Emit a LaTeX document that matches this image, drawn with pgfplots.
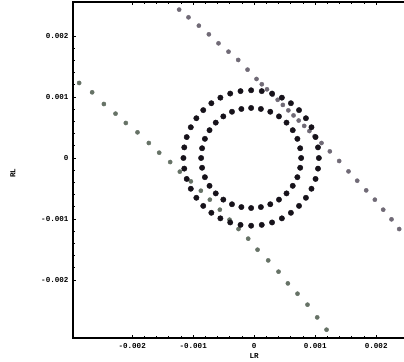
\documentclass[border=0pt]{standalone}
\usepackage{fontspec}
\setmonofont{Liberation Mono}
\usepackage{pgfplots}
\pgfplotsset{compat=1.18}
\definecolor{dotdark}{RGB}{22,18,26}
\definecolor{lineA}{RGB}{112,106,118}
\definecolor{lineB}{RGB}{102,114,102}
\begin{document}
\begin{tikzpicture}
\path[use as bounding box] (-73bp,-24bp) rectangle (331bp,338bp);
\begin{axis}[
  at={(0,0)}, anchor=south west,
  scale only axis, width=333.7bp, height=336bp,
  xmin=-2.97e-3, xmax=2.50e-3, ymin=-2.95e-3, ymax=2.557e-3,
  scaled ticks=false,
  axis line style={line width=1.2bp, black},
  xtick={-0.002,-0.001,0,0.001,0.002},
  ytick={-0.002,-0.001,0,0.001,0.002},
  xticklabels={-0.002,-0.001,0,0.001,0.002},
  yticklabels={-0.002,-0.001,0,0.001,0.002},
  minor tick num=4,
  major tick length=3bp, minor tick length=1.6bp,
  tick style={black, line width=0.7bp},
  ticklabel style={font=\ttfamily\bfseries\fontsize{7.6}{9}\selectfont, text=black},
  xticklabel style={yshift=-2bp},
  yticklabel style={xshift=-1bp},
  xlabel={LR}, ylabel={RL},
  label style={font=\ttfamily\bfseries\fontsize{7.6}{9}\selectfont, text=black},
  xlabel style={at={(axis description cs:0.543,0)}, anchor=north, yshift=-12bp},
  ylabel style={at={(axis description cs:0,0.49)}, anchor=center, yshift=60bp},
]
% upper line
\addplot[only marks, mark=*, mark size=2.1bp, lineA, mark options={draw=none, fill=lineA}] coordinates {
(-1.230e-3,2.432e-3) (-1.077e-3,2.306e-3) (-0.907e-3,2.169e-3) (-0.743e-3,2.027e-3)
(-0.585e-3,1.880e-3) (-0.421e-3,1.743e-3) (-0.262e-3,1.607e-3) (-0.109e-3,1.448e-3)
(0.038e-3,1.295e-3) (0.125e-3,1.209e-3) (0.210e-3,1.126e-3) (0.300e-3,1.037e-3)
(0.385e-3,0.954e-3) (0.470e-3,0.870e-3) (0.560e-3,0.781e-3) (0.645e-3,0.698e-3)
(0.730e-3,0.614e-3) (0.820e-3,0.526e-3) (0.905e-3,0.442e-3) (0.990e-3,0.358e-3)
(1.104e-3,0.246e-3) (1.240e-3,0.109e-3) (1.393e-3,-0.049e-3) (1.546e-3,-0.219e-3)
(1.689e-3,-0.372e-3) (1.836e-3,-0.530e-3) (1.978e-3,-0.683e-3) (2.115e-3,-0.847e-3)
(2.251e-3,-1.005e-3) (2.377e-3,-1.164e-3)
};
% lower line
\addplot[only marks, mark=*, mark size=2.1bp, lineB, mark options={draw=none, fill=lineB}] coordinates {
(-2.869e-3,1.230e-3) (-2.656e-3,1.077e-3) (-2.464e-3,0.885e-3) (-2.273e-3,0.727e-3)
(-2.104e-3,0.574e-3) (-1.913e-3,0.421e-3) (-1.727e-3,0.246e-3) (-1.557e-3,0.087e-3)
(-1.377e-3,-0.066e-3) (-1.219e-3,-0.224e-3) (-1.038e-3,-0.383e-3) (-0.874e-3,-0.536e-3)
(-0.727e-3,-0.683e-3) (-0.563e-3,-0.847e-3) (-0.404e-3,-1.011e-3) (-0.257e-3,-1.164e-3)
(-0.098e-3,-1.322e-3) (0.055e-3,-1.503e-3) (0.230e-3,-1.678e-3) (0.399e-3,-1.863e-3)
(0.552e-3,-2.055e-3) (0.710e-3,-2.224e-3) (0.874e-3,-2.404e-3) (1.033e-3,-2.612e-3)
(1.186e-3,-2.814e-3)
};
% outer circle
\addplot[only marks, mark=*, mark size=2.7bp, dotdark, mark options={draw=none, fill=dotdark}] coordinates {
(1.060e-3,0) (1.046e-3,0.174e-3) (1.006e-3,0.343e-3) (0.939e-3,0.504e-3)
(0.848e-3,0.652e-3) (0.735e-3,0.785e-3) (0.602e-3,0.898e-3) (0.454e-3,0.989e-3)
(0.293e-3,1.056e-3) (0.124e-3,1.096e-3) (-0.050e-3,1.110e-3) (-0.224e-3,1.096e-3)
(-0.393e-3,1.056e-3) (-0.554e-3,0.989e-3) (-0.702e-3,0.898e-3) (-0.835e-3,0.785e-3)
(-0.948e-3,0.652e-3) (-1.039e-3,0.504e-3) (-1.106e-3,0.343e-3) (-1.146e-3,0.174e-3)
(-1.160e-3,0) (-1.146e-3,-0.174e-3) (-1.106e-3,-0.343e-3) (-1.039e-3,-0.504e-3)
(-0.948e-3,-0.652e-3) (-0.835e-3,-0.785e-3) (-0.702e-3,-0.898e-3) (-0.554e-3,-0.989e-3)
(-0.393e-3,-1.056e-3) (-0.224e-3,-1.096e-3) (-0.050e-3,-1.110e-3) (0.124e-3,-1.096e-3)
(0.293e-3,-1.056e-3) (0.454e-3,-0.989e-3) (0.602e-3,-0.898e-3) (0.735e-3,-0.785e-3)
(0.848e-3,-0.652e-3) (0.939e-3,-0.504e-3) (1.006e-3,-0.343e-3) (1.046e-3,-0.174e-3)
};
% inner circle
\addplot[only marks, mark=*, mark size=2.7bp, dotdark, mark options={draw=none, fill=dotdark}] coordinates {
(0.770e-3,0) (0.754e-3,0.160e-3) (0.708e-3,0.314e-3) (0.632e-3,0.456e-3)
(0.530e-3,0.580e-3) (0.406e-3,0.682e-3) (0.264e-3,0.758e-3) (0.110e-3,0.804e-3)
(-0.050e-3,0.820e-3) (-0.210e-3,0.804e-3) (-0.364e-3,0.758e-3) (-0.506e-3,0.682e-3)
(-0.630e-3,0.580e-3) (-0.732e-3,0.456e-3) (-0.808e-3,0.314e-3) (-0.854e-3,0.160e-3)
(-0.870e-3,0) (-0.854e-3,-0.160e-3) (-0.808e-3,-0.314e-3) (-0.732e-3,-0.456e-3)
(-0.630e-3,-0.580e-3) (-0.506e-3,-0.682e-3) (-0.364e-3,-0.758e-3) (-0.210e-3,-0.804e-3)
(-0.050e-3,-0.820e-3) (0.110e-3,-0.804e-3) (0.264e-3,-0.758e-3) (0.406e-3,-0.682e-3)
(0.530e-3,-0.580e-3) (0.632e-3,-0.456e-3) (0.708e-3,-0.314e-3) (0.754e-3,-0.160e-3)
};
\end{axis}
\end{tikzpicture}
\end{document}
